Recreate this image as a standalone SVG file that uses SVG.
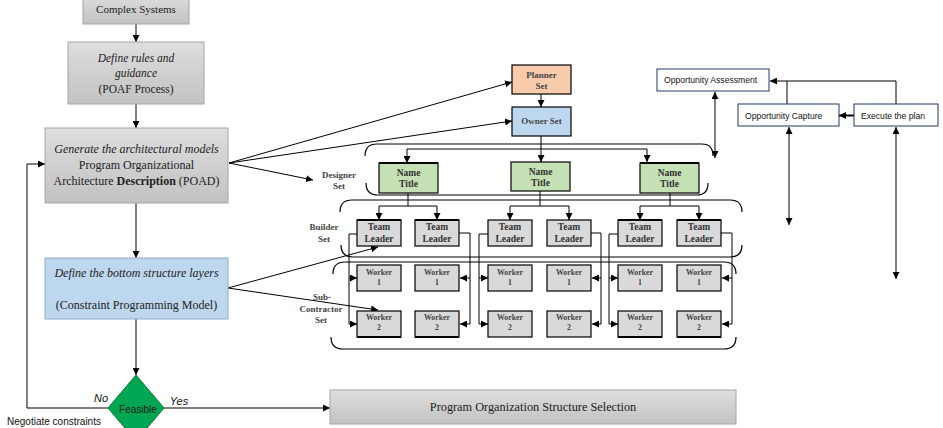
<svg xmlns="http://www.w3.org/2000/svg" width="943" height="428" viewBox="0 0 943 428">
<defs>
<linearGradient id="gray" x1="0" y1="0" x2="0" y2="1">
<stop offset="0" stop-color="#dedede"/><stop offset="1" stop-color="#c2c2c2"/>
</linearGradient>
<marker id="ah" viewBox="0 0 10 10" refX="10" refY="5" markerWidth="7" markerHeight="7" markerUnits="userSpaceOnUse" orient="auto-start-reverse"><path d="M0,0 L10,5 L0,10 z" fill="#000"/></marker>
<style>
.flow{fill:url(#gray);stroke:#a6a6a6;stroke-width:1}
.blue{fill:#bdd7ee;stroke:#8faacc;stroke-width:1}
.ft{font-family:"Liberation Serif","DejaVu Serif",serif;font-size:12px;fill:#222;text-anchor:middle}
.it{font-style:italic}
.b{font-weight:bold}
.sans{font-family:"Liberation Sans","DejaVu Sans",sans-serif}
.lbl{font-family:"Liberation Serif","DejaVu Serif",serif;font-weight:bold;font-size:9px;fill:#444;text-anchor:middle}
.ob{font-family:"Liberation Serif","DejaVu Serif",serif;font-weight:bold;font-size:9.5px;fill:#333;text-anchor:middle}
.wk{font-family:"Liberation Serif","DejaVu Serif",serif;font-weight:bold;font-size:7.8px;fill:#444;text-anchor:middle}
.tl{fill:#d9d9d9;stroke:#000;stroke-width:1.2}
.nm{fill:#c5e0b4;stroke:#000;stroke-width:1.2}
.opp{fill:#fff;stroke:#1f3864;stroke-width:1}
.ot{font-family:"Liberation Sans","DejaVu Sans",sans-serif;font-size:8.6px;fill:#111}
.c{fill:none;stroke:#000;stroke-width:1}
.ca{fill:none;stroke:#000;stroke-width:1;marker-end:url(#ah)}
.cd{fill:none;stroke:#000;stroke-width:1;marker-end:url(#ah);marker-start:url(#ah)}
.br{fill:none;stroke:#000;stroke-width:1.2}
</style>
</defs>
<rect width="943" height="428" fill="#fff"/>

<!-- set brackets -->
<g id="brackets">
<path class="br" d="M365,156 Q365,144 377,144 H702 Q713,144 713,156 M366,183 Q366,195 378,195 H697 Q708,195 708,183"/>
<path class="br" d="M340,212 Q340,200 352,200 H730 Q742,200 742,212 M341,245 Q341,257 353,257 H730 Q742,257 742,245"/>
<path class="br" d="M333,274 Q333,262 345,262 H724 Q736,262 736,274 M331,337 Q331,349 343,349 H724 Q736,349 736,337"/>
</g>

<g id="connectors">
<path class="ca" d="M136,24 V42"/>
<path class="ca" d="M136,104 V128"/>
<path class="ca" d="M136,203 V258"/>
<path class="ca" d="M136,319 V375"/>
<path class="ca" d="M108,408 H27 V164 H45"/>
<path class="ca" d="M164,408 H330"/>
<path class="ca" d="M229,163 L512,82"/>
<path class="ca" d="M229,163 L512,121"/>
<path class="ca" d="M229,163 L313,180"/>
<path class="ca" d="M228,288 L378,247"/>
<path class="ca" d="M228,288 L378,310"/>
<path class="ca" d="M541,94 V107"/>
<path class="ca" d="M541,136 V162"/>
<path class="ca" d="M541,149 H407 V163"/>
<path class="ca" d="M541,149 H647 V162"/>
<path class="ca" d="M408,193 V206 H379 V220"/>
<path class="ca" d="M408,206 H437 V220"/>
<path class="ca" d="M540,191 V206 H510 V220"/>
<path class="ca" d="M540,206 H569 V220"/>
<path class="ca" d="M670,193 V206 H640 V220"/>
<path class="ca" d="M670,206 H699 V220"/>
<path class="ca" d="M357,234 H349 V324 H357"/>
<path class="ca" d="M349,278 H357"/>
<path class="ca" d="M459,233 H470 V324 H460"/>
<path class="ca" d="M470,278 H460"/>
<path class="ca" d="M488,234 H479 V324 H488"/>
<path class="ca" d="M479,278 H488"/>
<path class="ca" d="M591,233 H601 V324 H592"/>
<path class="ca" d="M601,278 H592"/>
<path class="ca" d="M618,234 H609 V324 H618"/>
<path class="ca" d="M609,278 H618"/>
<path class="ca" d="M721,233 H732 V324 H722"/>
<path class="ca" d="M732,278 H722"/>
<path class="ca" d="M854,115.5 H839" style="stroke-width:2"/>
<path class="c" d="M787,104 V81"/>
<path class="ca" d="M896,104 V81 H770"/>
<path class="cd" d="M715,92 V158"/>
<path class="cd" d="M789,127 V225"/>
<path class="cd" d="M896,127 V279"/>
</g>

<g id="complex-systems">
<rect class="flow" x="83" y="-5" width="106" height="29"/>
<text class="ft" x="136" y="13" style="font-size:11px">Complex Systems</text>
</g>
<g id="define-rules">
<rect class="flow" x="68" y="42" width="136" height="62"/>
<text class="ft it" x="136" y="62" style="font-size:11.5px">Define rules and</text>
<text class="ft it" x="136" y="77" style="font-size:11.5px">guidance</text>
<text class="ft" x="136" y="93" style="font-size:11.5px">(POAF Process)</text>
</g>
<g id="generate">
<rect class="flow" x="45" y="128" width="183" height="75"/>
<text class="ft it" x="136.5" y="153">Generate the architectural models</text>
<text class="ft" x="136.5" y="169">Program Organizational</text>
<text class="ft" x="136.5" y="185">Architecture <tspan class="b">Description</tspan> (POAD)</text>
</g>
<g id="bottom-structure">
<rect class="blue" x="45" y="258" width="183" height="61"/>
<text class="ft it" x="136.5" y="277">Define the bottom structure layers</text>
<text class="ft" x="136.5" y="309">(Constraint Programming Model)</text>
</g>
<g id="feasible">
<polygon points="136,375 164,408 136,441 108,408" fill="#00a651" stroke="#0a7a3a" stroke-width="1"/>
<text class="sans" x="138" y="413" text-anchor="middle" font-size="10" fill="#1a1a1a">Feasible</text>
<text class="sans" x="101" y="402" text-anchor="middle" font-size="11" font-style="italic" fill="#111">No</text>
<text class="sans" x="179" y="405" text-anchor="middle" font-size="11" font-style="italic" fill="#111">Yes</text>
<text class="sans" x="7" y="425" font-size="10" fill="#111">Negotiate constraints</text>
</g>
<g id="selection">
<rect class="flow" x="330" y="390" width="406" height="34"/>
<text class="ft" x="533" y="411" style="font-size:12.3px">Program Organization Structure Selection</text>
</g>

<g id="planner">
<rect x="512" y="65" width="59" height="29" fill="#f8cbad" stroke="#000" stroke-width="1.2"/>
<text class="lbl" x="541.5" y="78" fill="#6b3a2a">Planner</text>
<text class="lbl" x="541.5" y="89">Set</text>
</g>
<g id="owner">
<rect x="512" y="107" width="59" height="29" fill="#bdd7ee" stroke="#000" stroke-width="1.2"/>
<text class="lbl" x="541.5" y="124" fill="#3d4f63">Owner Set</text>
</g>

<g id="set-labels">
<text class="lbl" x="339" y="178">Designer</text>
<text class="lbl" x="339" y="189">Set</text>
<text class="lbl" x="324" y="230">Builder</text>
<text class="lbl" x="324" y="242">Set</text>
<text class="lbl" x="322" y="300">Sub-</text>
<text class="lbl" x="321" y="312">Contractor</text>
<text class="lbl" x="321" y="323">Set</text>
</g>

<g id="designer-1"><rect class="nm" x="379" y="163" width="59" height="30"/><line x1="379" y1="163" x2="438" y2="163" stroke="#000" stroke-width="2.2"/><text class="ob" x="408.5" y="176">Name</text><text class="ob" x="408.5" y="187">Title</text></g>
<g id="designer-2"><rect class="nm" x="511" y="162" width="59" height="29"/><text class="ob" x="540.5" y="175">Name</text><text class="ob" x="540.5" y="186">Title</text></g>
<g id="designer-3"><rect class="nm" x="640" y="163" width="59" height="30"/><line x1="640" y1="163" x2="699" y2="163" stroke="#000" stroke-width="2.2"/><text class="ob" x="669.5" y="176">Name</text><text class="ob" x="669.5" y="187">Title</text></g>

<g id="team-leader-1"><rect class="tl" x="357" y="220" width="44" height="26"/><line x1="357" y1="220" x2="401" y2="220" stroke="#000" stroke-width="2.2"/><text class="ob" x="379" y="230">Team</text><text class="ob" x="379" y="242">Leader</text></g>
<g id="team-leader-2"><rect class="tl" x="415" y="220" width="44" height="26"/><line x1="415" y1="220" x2="459" y2="220" stroke="#000" stroke-width="2.2"/><text class="ob" x="437" y="230">Team</text><text class="ob" x="437" y="242">Leader</text></g>
<g id="team-leader-3"><rect class="tl" x="488" y="220" width="44" height="26"/><text class="ob" x="510" y="230">Team</text><text class="ob" x="510" y="242">Leader</text></g>
<g id="team-leader-4"><rect class="tl" x="547" y="220" width="44" height="26"/><text class="ob" x="569" y="230">Team</text><text class="ob" x="569" y="242">Leader</text></g>
<g id="team-leader-5"><rect class="tl" x="618" y="220" width="44" height="26"/><line x1="618" y1="220" x2="662" y2="220" stroke="#000" stroke-width="2.2"/><text class="ob" x="640" y="230">Team</text><text class="ob" x="640" y="242">Leader</text></g>
<g id="team-leader-6"><rect class="tl" x="677" y="220" width="44" height="26"/><line x1="677" y1="220" x2="721" y2="220" stroke="#000" stroke-width="2.2"/><text class="ob" x="699" y="230">Team</text><text class="ob" x="699" y="242">Leader</text></g>

<g id="worker-1-1"><rect class="tl" x="357" y="265" width="44" height="26"/><text class="wk" x="379" y="275">Worker</text><text class="wk" x="379" y="285">1</text></g>
<g id="worker-2-1"><rect class="tl" x="415" y="265" width="44" height="26"/><text class="wk" x="437" y="275">Worker</text><text class="wk" x="437" y="285">1</text></g>
<g id="worker-3-1"><rect class="tl" x="488" y="265" width="44" height="26"/><text class="wk" x="510" y="275">Worker</text><text class="wk" x="510" y="285">1</text></g>
<g id="worker-4-1"><rect class="tl" x="547" y="265" width="44" height="26"/><text class="wk" x="569" y="275">Worker</text><text class="wk" x="569" y="285">1</text></g>
<g id="worker-5-1"><rect class="tl" x="618" y="265" width="44" height="26"/><text class="wk" x="640" y="275">Worker</text><text class="wk" x="640" y="285">1</text></g>
<g id="worker-6-1"><rect class="tl" x="677" y="265" width="44" height="26"/><text class="wk" x="699" y="275">Worker</text><text class="wk" x="699" y="285">1</text></g>

<g id="worker-1-2"><rect class="tl" x="357" y="311" width="44" height="26"/><line x1="357" y1="337" x2="401" y2="337" stroke="#000" stroke-width="2"/><text class="wk" x="379" y="320">Worker</text><text class="wk" x="379" y="330">2</text></g>
<g id="worker-2-2"><rect class="tl" x="415" y="311" width="44" height="26"/><line x1="415" y1="337" x2="459" y2="337" stroke="#000" stroke-width="2"/><text class="wk" x="437" y="320">Worker</text><text class="wk" x="437" y="330">2</text></g>
<g id="worker-3-2"><rect class="tl" x="488" y="311" width="44" height="26"/><text class="wk" x="510" y="320">Worker</text><text class="wk" x="510" y="330">2</text></g>
<g id="worker-4-2"><rect class="tl" x="547" y="311" width="44" height="26"/><text class="wk" x="569" y="320">Worker</text><text class="wk" x="569" y="330">2</text></g>
<g id="worker-5-2"><rect class="tl" x="618" y="311" width="44" height="26"/><line x1="618" y1="337" x2="662" y2="337" stroke="#000" stroke-width="2"/><text class="wk" x="640" y="320">Worker</text><text class="wk" x="640" y="330">2</text></g>
<g id="worker-6-2"><rect class="tl" x="677" y="311" width="44" height="26"/><line x1="677" y1="337" x2="721" y2="337" stroke="#000" stroke-width="2"/><text class="wk" x="699" y="320">Worker</text><text class="wk" x="699" y="330">2</text></g>

<g id="opportunity-assessment"><rect class="opp" x="657" y="69" width="112" height="22"/><text class="ot" x="664" y="83">Opportunity Assessment</text></g>
<g id="opportunity-capture"><rect class="opp" x="738" y="104" width="101" height="22"/><text class="ot" x="745" y="118.5">Opportunity Capture</text></g>
<g id="execute-plan"><rect class="opp" x="854" y="104" width="84" height="22"/><text class="ot" x="861" y="118.5">Execute the plan</text></g>
</svg>
